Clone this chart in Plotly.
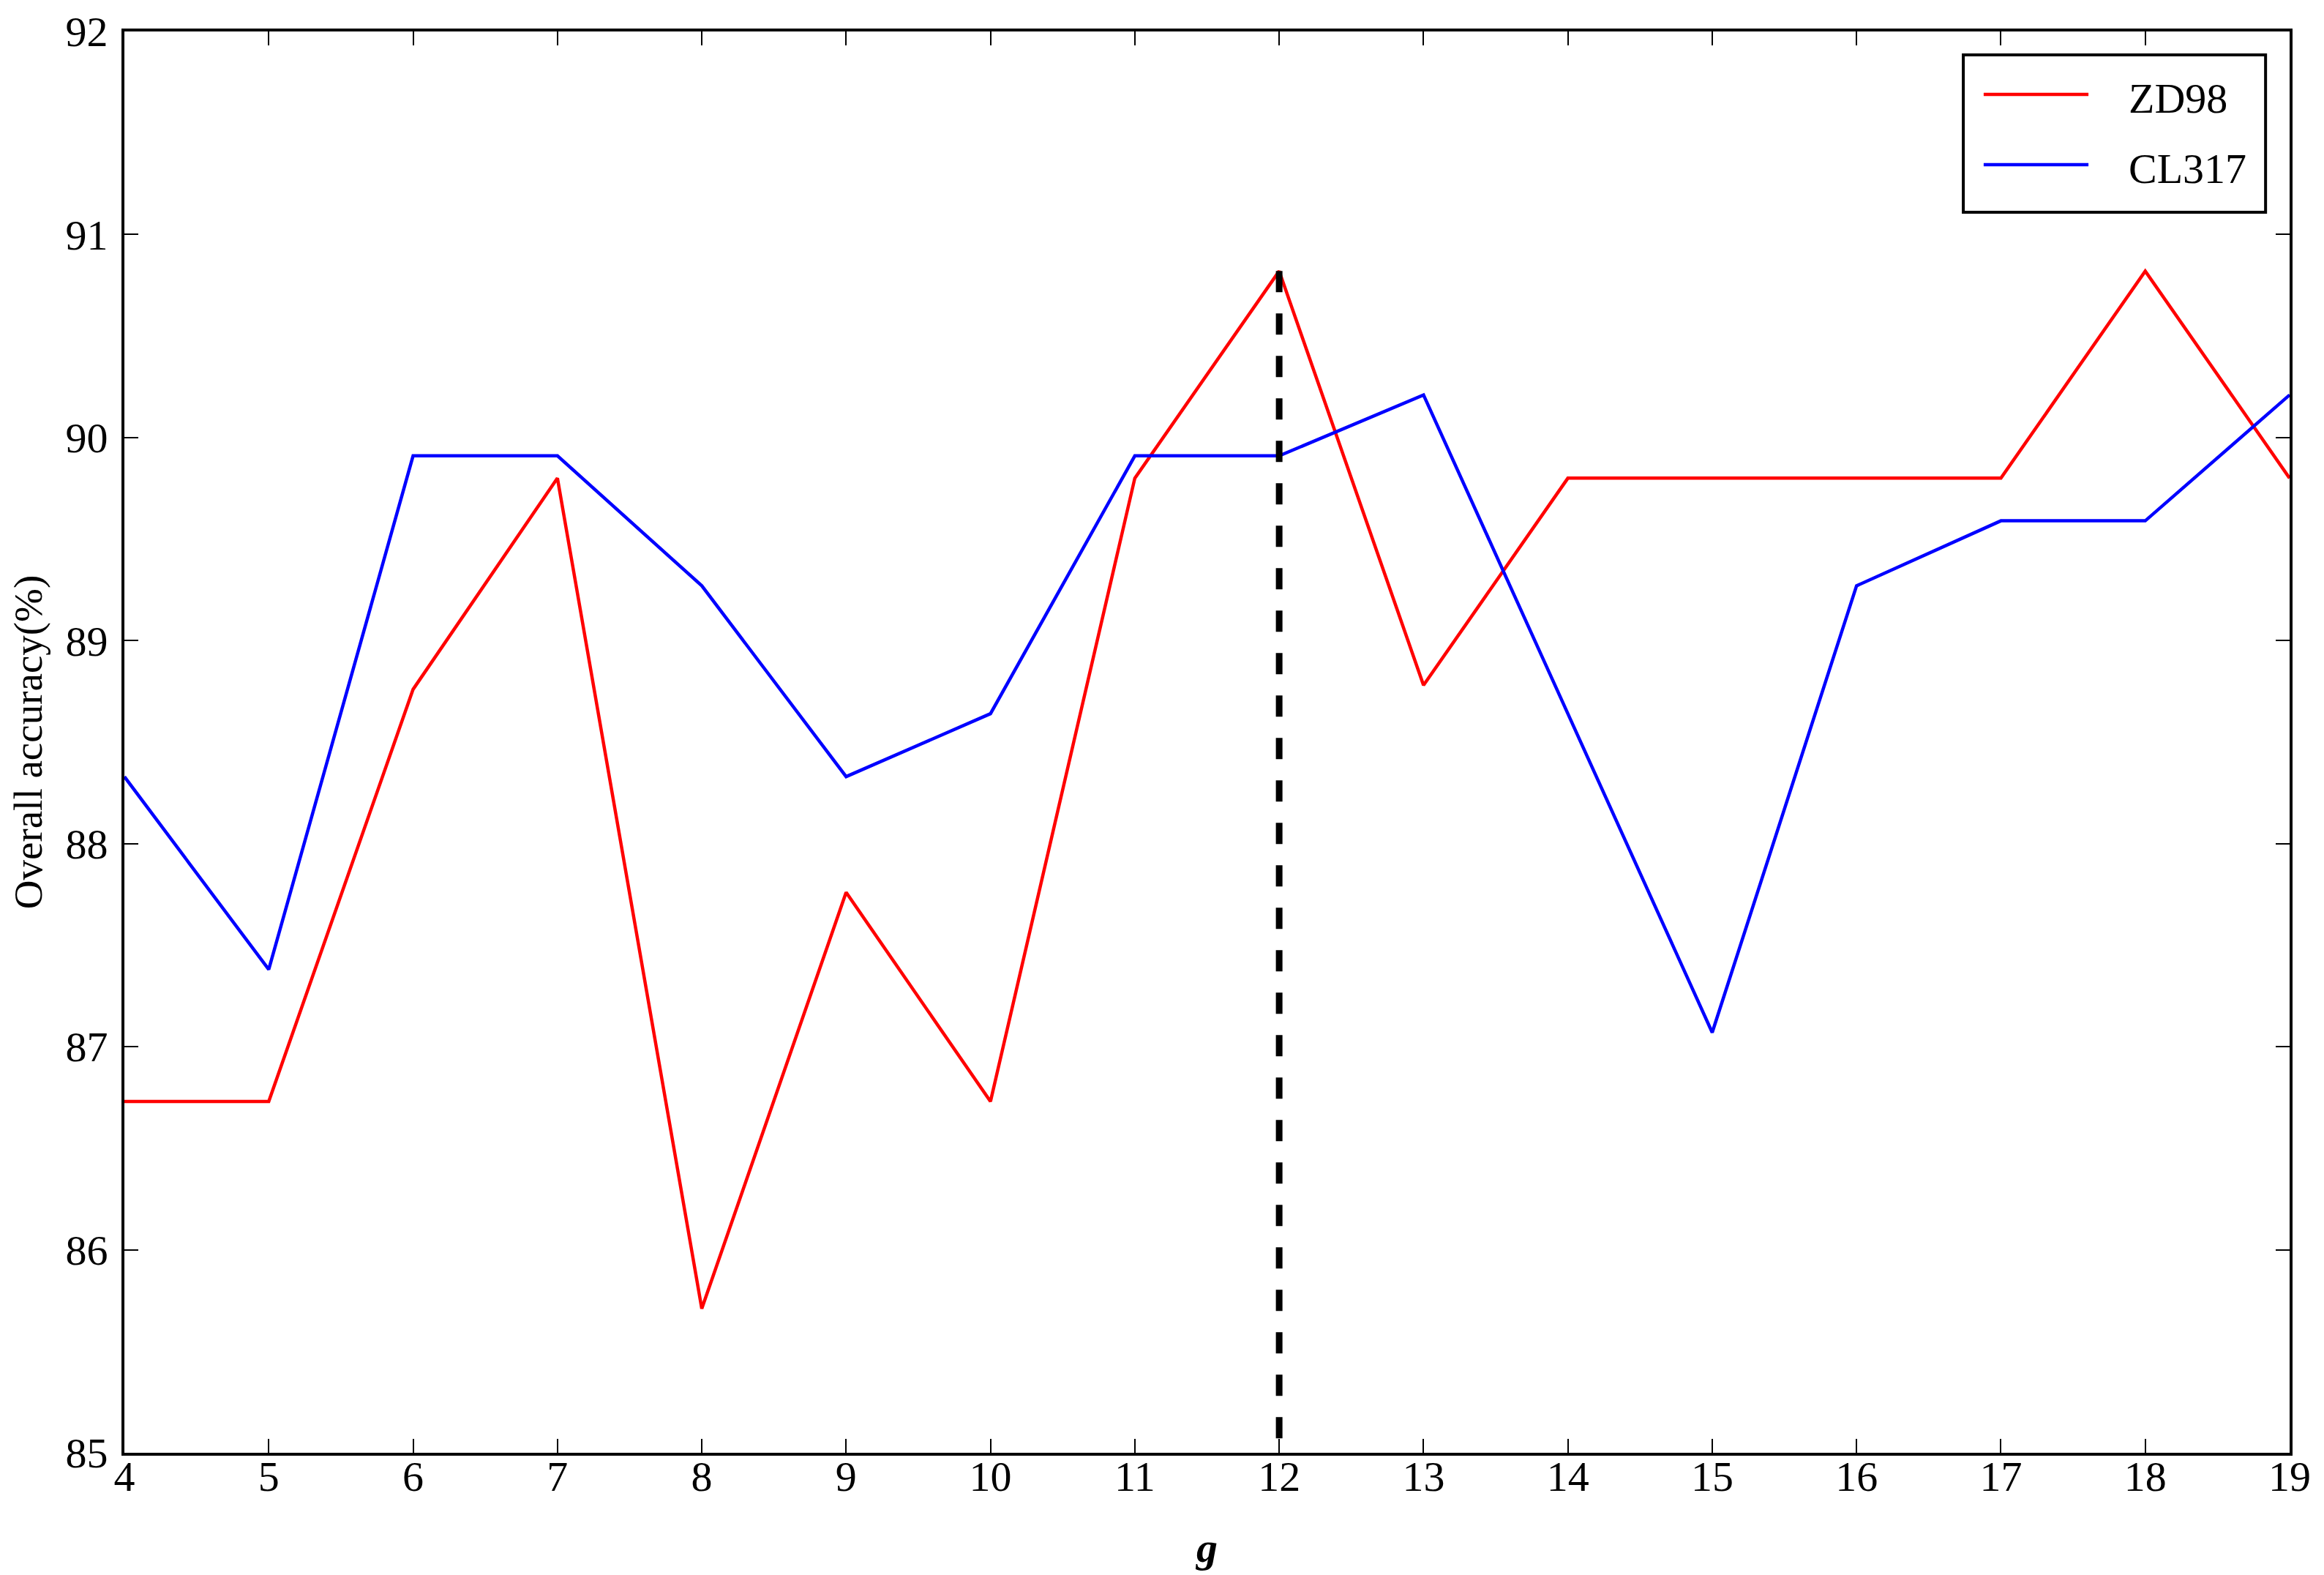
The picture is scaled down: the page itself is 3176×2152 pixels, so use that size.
import plotly.graph_objects as go

g_values = [4, 5, 6, 7, 8, 9, 10, 11, 12, 13, 14, 15, 16, 17, 18, 19]
zd98 = [86.73, 86.73, 88.76, 89.80, 85.71, 87.76, 86.73, 89.80, 90.82, 88.78, 89.80, 89.80, 89.80, 89.80, 90.82, 89.80]
cl317 = [88.33, 87.38, 89.91, 89.91, 89.27, 88.33, 88.64, 89.91, 89.91, 90.21, 88.64, 87.07, 89.27, 89.59, 89.59, 90.21]
best_g = 12
best_line_y = [90.82, 85.0]
series_names = ["ZD98", "CL317"]
series_colors = ["#FF0000", "#0000FF"]

FONT = "Liberation Serif, Times New Roman, serif"

fig = go.Figure()
for name, vals, col in zip(series_names, [zd98, cl317], series_colors):
    fig.add_trace(go.Scatter(x=g_values, y=vals, mode="lines", name=name,
                             line=dict(color=col, width=4.5), showlegend=False))

fig.add_trace(go.Scatter(x=[best_g, best_g], y=best_line_y, mode="lines",
                         line=dict(color="black", width=9, dash="29px,29px"),
                         showlegend=False, name="best g"))

# custom legend box (paper coordinates)
lx0, lx1, ly0, ly1 = 0.8493, 0.9889, 0.8728, 0.9835
shapes = [dict(type="rect", xref="paper", yref="paper", x0=lx0, x1=lx1, y0=ly0, y1=ly1,
               line=dict(color="black", width=4), fillcolor="white", layer="above")]
annotations = []
for i, (name, col) in enumerate(zip(series_names, series_colors)):
    yy = 0.9557 - i * 0.0494
    shapes.append(dict(type="line", xref="paper", yref="paper", x0=0.8587, x1=0.9071,
                       y0=yy, y1=yy, line=dict(color=col, width=4.5), layer="above"))
    annotations.append(dict(xref="paper", yref="paper", x=0.9250, y=yy - 0.003, text=name,
                            showarrow=False, xanchor="left", yanchor="middle",
                            font=dict(family=FONT, size=58, color="black")))

fig.update_layout(
    width=3168, height=2144,
    margin=dict(l=162, r=47, t=35, b=167, autoexpand=False),
    paper_bgcolor="white", plot_bgcolor="white",
    font=dict(family=FONT, size=58, color="black"),
    shapes=shapes, annotations=annotations,
    showlegend=False,
)
fig.update_xaxes(range=[4, 19], tickmode="linear", tick0=4, dtick=1, automargin=False,
                 showgrid=False, zeroline=False, showline=True, linecolor="black", linewidth=4,
                 mirror="allticks", ticks="inside", ticklen=19, tickwidth=2, tickcolor="black",
                 tickfont=dict(family=FONT, size=58), ticklabelstandoff=-22,
                 title=dict(text="<b><i>g</i></b>", font=dict(family=FONT, size=58), standoff=46))
fig.update_yaxes(range=[85, 92], tickmode="linear", tick0=85, dtick=1, automargin=False,
                 showgrid=False, zeroline=False, showline=True, linecolor="black", linewidth=4,
                 mirror="allticks", ticks="inside", ticklen=19, tickwidth=2, tickcolor="black",
                 tickfont=dict(family=FONT, size=58), ticklabelstandoff=7,
                 title=dict(text="Overall accuracy(%)", font=dict(family=FONT, size=55), standoff=35))

fig.write_html("out.html")
